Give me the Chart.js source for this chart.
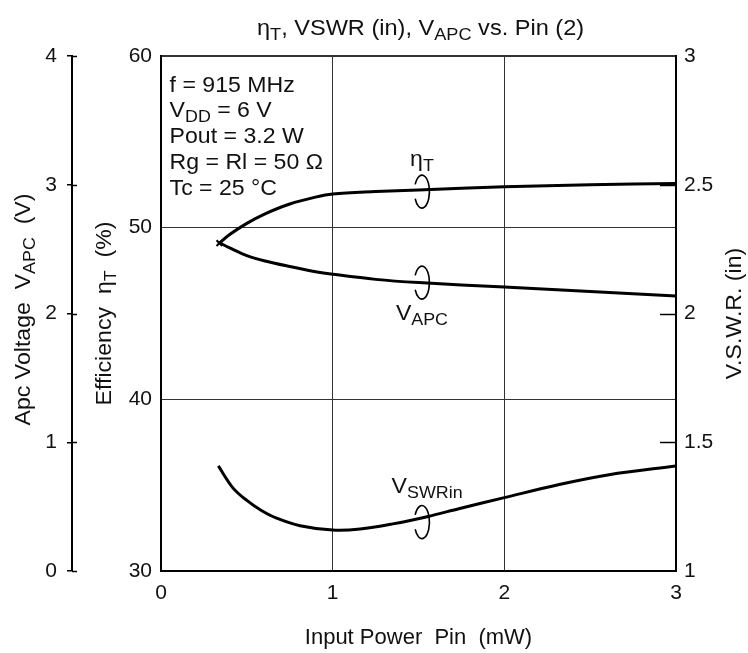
<!DOCTYPE html>
<html>
<head>
<meta charset="utf-8">
<script src="https://cdn.jsdelivr.net/npm/chart.js@4.4.1/dist/chart.umd.min.js"></script>
<style>
  html, body { margin: 0; padding: 0; background: #ffffff; }
  canvas { display: block; }
</style>
</head>
<body>
<canvas id="c" width="748" height="653"></canvas>
<script>
// ---- Data ----
const pinEta = [0.34, 0.4, 0.5, 0.6, 0.75, 0.9, 1.0, 1.25, 1.5, 2.0, 2.5, 3.0];
const etaValues = [49.1, 49.6, 50.25, 50.78, 51.38, 51.78, 51.96, 52.1, 52.2, 52.38, 52.5, 52.58];

const pinApc = [0.34, 0.4, 0.5, 0.6, 0.75, 0.9, 1.0, 1.25, 1.5, 2.0, 2.5, 3.0];
const apcValues = [2.55, 2.51, 2.45, 2.41, 2.365, 2.325, 2.305, 2.265, 2.24, 2.205, 2.17, 2.136];

const pinVswr = [0.334, 0.42, 0.5, 0.58, 0.67, 0.81, 1.0, 1.16, 1.35, 1.55, 1.74, 2.0, 2.32, 2.61, 3.0];
const vswrValues = [1.408, 1.322, 1.274, 1.237, 1.206, 1.176, 1.159, 1.163, 1.183, 1.211, 1.243, 1.285, 1.336, 1.374, 1.408];

const xTicks = [0, 1, 2, 3];
const etaTicks = [30, 40, 50, 60];
const apcTicks = [0, 1, 2, 3, 4];
const vswrTicks = [1, 1.5, 2, 2.5, 3];
const vswrInnerTicks = [1.5, 2, 2.5];

const chartTitle = [['η', false], ['T', true], [', VSWR (in), V', false], ['APC', true], [' vs. Pin (2)', false]];
const infoLines = [
  [['f = 915 MHz', false]],
  [['V', false], ['DD', true], [' = 6 V', false]],
  [['Pout = 3.2 W', false]],
  [['Rg = Rl = 50 Ω', false]],
  [['Tc = 25 °C', false]]
];
// annotation anchors in data units
const infoAnchor = { x: 0.05, y: 57.92, step: 1.5 };
const loopPin = 1.52;
const loops = [
  { axis: 'y', value: 52.1 },
  { axis: 'yApc', value: 2.24 },
  { axis: 'yV', value: 1.19 }
];
const curveLabels = [
  { axis: 'y', x: 1.52, value: 53.6, parts: [['η', false], ['T', true]] },
  { axis: 'yApc', x: 1.52, value: 1.95, parts: [['V', false], ['APC', true]] },
  { axis: 'yV', x: 1.55, value: 1.303, parts: [['V', false], ['SWRin', true]] }
];

const FF = '"Liberation Sans", Arial, Helvetica, sans-serif';
const TXT = '#111';

function drawRich(ctx, parts, x, y, o) {
  o = o || {};
  const size = o.size || 22, sub = o.sub || 17, dy = o.dy || 5, hs = o.hs || 1.05;
  ctx.save();
  ctx.translate(x, y);
  if (o.rot) ctx.rotate(o.rot);
  ctx.scale(hs, 1);
  ctx.fillStyle = TXT;
  ctx.textBaseline = 'alphabetic';
  ctx.textAlign = 'left';
  let w = 0;
  parts.forEach(p => { ctx.font = (p[1] ? sub : size) + 'px ' + FF; w += ctx.measureText(p[0]).width; });
  let cx = o.align === 'center' ? -w / 2 : (o.align === 'right' ? -w : 0);
  parts.forEach(p => {
    ctx.font = (p[1] ? sub : size) + 'px ' + FF;
    ctx.fillText(p[0], cx, p[1] ? dy : 0);
    cx += ctx.measureText(p[0]).width;
  });
  ctx.restore();
}

const extras = {
  id: 'extras',
  afterDraw(chart) {
    const ctx = chart.ctx;
    const ca = chart.chartArea;
    const s = chart.scales;
    ctx.save();
    ctx.strokeStyle = '#000';
    // inward ticks on the right axis
    ctx.lineWidth = 1.5;
    vswrInnerTicks.forEach(v => {
      const y = Math.round(s.yV.getPixelForValue(v)) + 0.5;
      ctx.beginPath(); ctx.moveTo(ca.right - 16, y); ctx.lineTo(ca.right, y); ctx.stroke();
    });
    // Apc ticks cross the axis line
    apcTicks.forEach(v => {
      const y = Math.round(s.yApc.getPixelForValue(v)) + 0.5;
      ctx.beginPath(); ctx.moveTo(s.yApc.right, y); ctx.lineTo(s.yApc.right + 5, y); ctx.stroke();
    });
    // loops
    ctx.lineWidth = 1.6;
    const lx = s.x.getPixelForValue(loopPin);
    loops.forEach(l => {
      const ly = s[l.axis].getPixelForValue(l.value);
      ctx.beginPath();
      ctx.ellipse(lx, ly, 7.5, 16.5, 0, Math.PI + 0.45, Math.PI - 0.45);
      ctx.stroke();
    });
    ctx.restore();

    // curve labels
    curveLabels.forEach(c => {
      drawRich(ctx, c.parts, s.x.getPixelForValue(c.x), s[c.axis].getPixelForValue(c.value), { align: 'center' });
    });
    // info block
    infoLines.forEach((line, i) => {
      drawRich(ctx, line, s.x.getPixelForValue(infoAnchor.x), s.y.getPixelForValue(infoAnchor.y - i * infoAnchor.step), {});
    });
    // chart title
    drawRich(ctx, chartTitle, (ca.left + ca.right) / 2 + 2, 35, { align: 'center', hs: 1.07 });
    // axis titles
    drawRich(ctx, [['Apc Voltage  V', false], ['APC', true], ['  (V)', false]], 30, (ca.top + ca.bottom) / 2 - 4, { rot: -Math.PI / 2, align: 'center' });
    drawRich(ctx, [['Efficiency  η', false], ['T', true], ['  (%)', false]], 111, (ca.top + ca.bottom) / 2, { rot: -Math.PI / 2, align: 'center' });
    drawRich(ctx, [['V.S.W.R. (in)', false]], 741, (ca.top + ca.bottom) / 2, { rot: -Math.PI / 2, align: 'center' });
  }
};

const lineStyle = {
  borderColor: '#000',
  backgroundColor: '#000',
  borderWidth: 3,
  pointRadius: 0,
  fill: false,
  cubicInterpolationMode: 'default',
  tension: 0.35
};

new Chart(document.getElementById('c'), {
  type: 'line',
  data: {
    datasets: [
      Object.assign({}, lineStyle, {
        label: 'ηT',
        yAxisID: 'y',
        data: pinEta.map((p, i) => ({ x: p, y: etaValues[i] })),
        pointRadius: ctx => ctx.dataIndex === 0 ? 4 : 0,
        pointStyle: 'crossRot',
        pointBorderWidth: 2
      }),
      Object.assign({}, lineStyle, {
        label: 'VAPC',
        yAxisID: 'yApc',
        data: pinApc.map((p, i) => ({ x: p, y: apcValues[i] }))
      }),
      Object.assign({}, lineStyle, {
        label: 'VSWRin',
        yAxisID: 'yV',
        data: pinVswr.map((p, i) => ({ x: p, y: vswrValues[i] }))
      })
    ]
  },
  options: {
    responsive: false,
    devicePixelRatio: 1,
    animation: false,
    layout: { padding: { top: 56, left: 0, right: 0, bottom: 0 } },
    plugins: { legend: { display: false }, tooltip: { enabled: false }, title: { display: false } },
    scales: {
      x: {
        type: 'linear', min: 0, max: 3,
        afterBuildTicks: sc => { sc.ticks = xTicks.map(v => ({ value: v })); },
        afterFit: sc => { sc.height = 82; },
        ticks: { font: { family: FF, size: 21 }, color: TXT, padding: 10, maxRotation: 0, callback: v => String(v) },
        grid: { color: '#333', lineWidth: c => (c.tick && (c.tick.value === 0 || c.tick.value === 3)) ? 0 : 1, drawTicks: false },
        border: { color: '#000', width: 2 },
        title: { display: true, text: 'Input Power  Pin  (mW)', font: { family: FF, size: 22 }, color: TXT, padding: { top: 0, bottom: 2 } }
      },
      y: {
        type: 'linear', position: 'left', min: 30, max: 60, weight: 0,
        afterBuildTicks: sc => { sc.ticks = etaTicks.map(v => ({ value: v })); },
        afterFit: sc => { sc.width = 89; },
        ticks: { font: { family: FF, size: 21 }, color: TXT, padding: 9, callback: v => String(v) },
        grid: { color: '#333', lineWidth: c => (c.tick && c.tick.value === 60) ? 2 : (c.tick && c.tick.value === 30 ? 0 : 1), drawTicks: false },
        border: { color: '#000', width: 2 }
      },
      yApc: {
        type: 'linear', position: 'left', min: 0, max: 4, weight: 1,
        afterBuildTicks: sc => { sc.ticks = apcTicks.map(v => ({ value: v })); },
        afterFit: sc => { sc.width = 72; },
        ticks: { font: { family: FF, size: 21 }, color: TXT, padding: 10, callback: v => String(v) },
        grid: { drawOnChartArea: false, drawTicks: true, tickLength: 5, color: '#000', lineWidth: 1.5 },
        border: { color: '#000', width: 2 }
      },
      yV: {
        type: 'linear', position: 'right', min: 1, max: 3,
        afterBuildTicks: sc => { sc.ticks = vswrTicks.map(v => ({ value: v })); },
        afterFit: sc => { sc.width = 72; },
        ticks: { font: { family: FF, size: 21 }, color: TXT, padding: 8, callback: v => String(v) },
        grid: { drawOnChartArea: false, drawTicks: false },
        border: { color: '#000', width: 2 }
      }
    }
  },
  plugins: [extras]
});
</script>
</body>
</html>
